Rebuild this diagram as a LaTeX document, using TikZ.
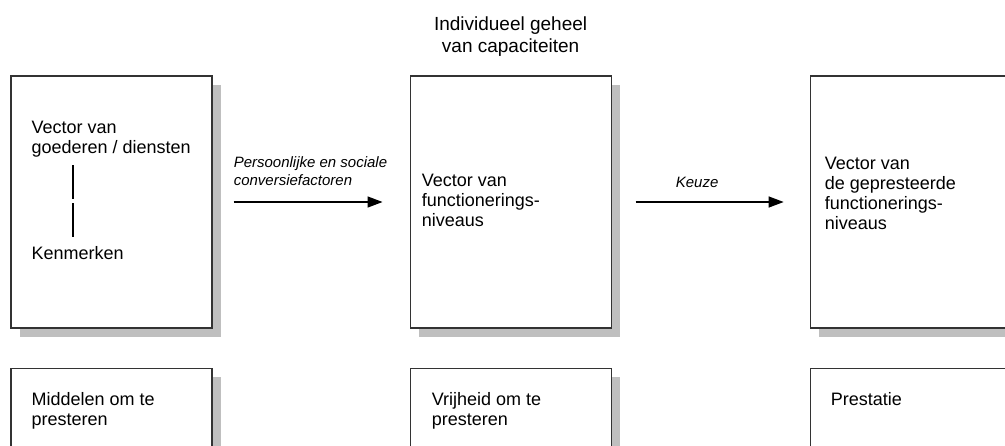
\documentclass[tikz,border=0pt]{standalone}
\usepackage{fontspec}
\setmainfont{Liberation Sans}
\usetikzlibrary{positioning,shadows,arrows.meta}
\definecolor{shadegray}{gray}{0.75}

\begin{document}
\begin{tikzpicture}[x=1pt,y=-1pt,
    bigbox/.style={draw=black!80,line width=1.1pt,fill=white,
      minimum width=201pt,minimum height=252pt,
      drop shadow={shadow xshift=9pt,shadow yshift=-9pt,fill=shadegray,opacity=1}},
    smallbox/.style={bigbox,minimum height=80pt},
    boxtext/.style={inner sep=0pt,align=left,anchor=base west,font=\fontsize{18}{20}\selectfont},
    flow/.style={line width=1.3pt,-{Triangle[length=15pt,width=11pt]}},
    flowlabel/.style={inner sep=0pt,align=left,anchor=base west,font=\fontsize{15}{18}\selectfont\itshape},
    bar/.style={line width=2.6pt}]
    \path[use as bounding box,clip] (0,0) rectangle (1005,445);
    \node[bigbox] (goods) at (111.5,202) {};
    \node[bigbox,right=197pt of goods] (cap) {};
    \node[bigbox,right=198pt of cap] (done) {};
    \node[smallbox,below=39pt of goods] (means) {};
    \node[smallbox,below=39pt of cap] (freedom) {};
    \node[smallbox,below=39pt of done] (perf) {};
    \node[inner sep=0pt,align=center,anchor=base,font=\fontsize{19}{22}\selectfont] (title)
      at ([yshift=23pt]cap.north) {Individueel geheel\\van capaciteiten};
    \node[boxtext] (goodstxt) at ([xshift=21pt,yshift=-78pt]goods.north west) {Vector van\\goederen / diensten};
    \node[boxtext] (kenm) at ([xshift=21pt,yshift=-184pt]goods.north west) {Kenmerken};
    \foreach \y in {165,203}
      \draw[bar] (73,\y) -- ++(0,34);
    \node[boxtext] (captxt) at ([xshift=12pt,yshift=-151pt]cap.north west) {Vector van\\functionerings-\\niveaus};
    \node[boxtext] (donetxt) at ([xshift=15pt,yshift=-154pt]done.north west) {Vector van\\de gepresteerde\\functionerings-\\niveaus};
    \node[boxtext] (meanstxt) at ([xshift=21pt,yshift=-58pt]means.north west) {Middelen om te\\presteren};
    \node[boxtext] (freetxt) at ([xshift=22pt,yshift=-58pt]freedom.north west) {Vrijheid om te\\presteren};
    \node[boxtext] (perftxt) at ([xshift=21pt,yshift=-38pt]perf.north west) {Prestatie};
    \coordinate (c1) at ([xshift=21pt]goods.east);
    \coordinate (c2) at ([xshift=24pt]cap.east);
    \draw[flow] (c1) -- ([xshift=-27pt]cap.west);
    \draw[flow] (c2) -- ([xshift=-26pt]done.west);
    \node[flowlabel] (convlbl) at ([yshift=17pt]c1) {Persoonlijke en sociale\\conversiefactoren};
    \node[flowlabel] (keuze) at ([xshift=40pt,yshift=15pt]c2) {Keuze};
\end{tikzpicture}
\end{document}
